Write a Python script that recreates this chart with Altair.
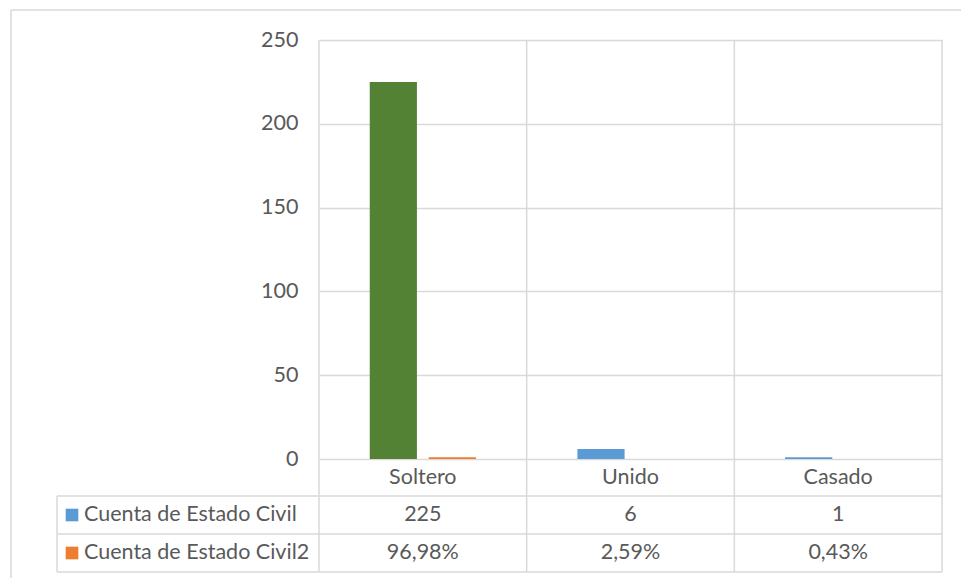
import altair as alt
import pandas as pd

# Categories and the two series of the chart
categorias = ["Soltero", "Unido", "Casado"]
cuenta = [225, 6, 1]
porcentaje = [0.9698, 0.0259, 0.0043]
series = ["Cuenta de Estado Civil", "Cuenta de Estado Civil2"]
ticks_y = [0, 50, 100, 150, 200, 250]

FONT = "Lato"
TXT = "#595959"
GRID = "#d9d9d9"
FS = 21.5

W, H = 623, 419          # plot area
LEFT, TOP = 319, 40      # plot origin inside the page

largo = pd.DataFrame({
    "cat": categorias * 2,
    "serie": [series[0]] * 3 + [series[1]] * 3,
    "valor": cuenta + porcentaje,
})
tabla = pd.DataFrame({"cat": categorias, "cuenta": cuenta, "pct": porcentaje})

xcat = alt.X("cat:N", sort=categorias,
             scale=alt.Scale(paddingInner=0, paddingOuter=0), axis=None)

barras = alt.Chart(largo).mark_bar().encode(
    x=xcat,
    xOffset=alt.XOffset("serie:N", sort=series,
                        scale=alt.Scale(paddingInner=0.2, paddingOuter=0.86)),
    y=alt.Y("valor:Q", scale=alt.Scale(domain=[0, 250], nice=False),
            axis=alt.Axis(values=ticks_y, grid=True, gridColor=GRID, gridWidth=1.5,
                          domain=False, ticks=False, labelPadding=21,
                          labelFont=FONT, labelFontSize=FS, labelColor=TXT,
                          title=None)),
    color=alt.condition(
        "datum.cat == 'Soltero' && datum.serie == 'Cuenta de Estado Civil'",
        alt.value("#548235"),
        alt.Color("serie:N", scale=alt.Scale(domain=series,
                                             range=["#5b9bd5", "#ed7d31"]),
                  legend=None)),
)

# Vertical separators: category boundaries through plot and data table
sep = alt.Chart(tabla).mark_rule(color=GRID, strokeWidth=1.5).encode(
    x=alt.X("cat:N", sort=categorias, bandPosition=0,
            scale=alt.Scale(paddingInner=0, paddingOuter=0), axis=None),
    y=alt.value(0), y2=alt.value(532),
)

unit = alt.Data(values=[{"k": 0}])


def linea(x, x2, y, y2):
    return alt.Chart(unit).mark_rule(color=GRID, strokeWidth=1.5).encode(
        x=alt.value(x), x2=alt.value(x2), y=alt.value(y), y2=alt.value(y2))


lineas = [
    linea(W, W, 0, 532),                 # right edge
    linea(-262, W, 456, 456),            # table rows
    linea(-262, W, 494, 494),
    linea(-262, W, 532, 532),
    linea(-262, -262, 456, 532),         # table left edge
    linea(11 - LEFT, 961 - LEFT, 10 - TOP, 10 - TOP),   # chart frame
    linea(11 - LEFT, 11 - LEFT, 10 - TOP, 578 - TOP),
]

texto = dict(font=FONT, fontSize=FS, color=TXT, baseline="middle")

etiquetas_cat = alt.Chart(tabla).mark_text(**texto).encode(
    x=xcat, y=alt.value(438), text="cat:N")

fila_cuenta = alt.Chart(tabla).mark_text(**texto).encode(
    x=xcat, y=alt.value(475), text=alt.Text("cuenta:Q", format="d"))

fila_pct = alt.Chart(tabla).transform_calculate(
    lab="replace(format(datum.pct, '.2%'), '.', ',')"
).mark_text(**texto).encode(x=xcat, y=alt.value(513), text="lab:N")

leyenda = alt.Chart(pd.DataFrame({"serie": series, "fila": [475, 513]}))
cuadros = leyenda.mark_square(size=160, opacity=1, strokeWidth=0).encode(
    x=alt.value(-247), y=alt.Y("fila:Q", scale=None),
    color=alt.Color("serie:N", scale=alt.Scale(domain=series,
                                               range=["#5b9bd5", "#ed7d31"]),
                    legend=None))
nombres = leyenda.mark_text(align="left", **texto).encode(
    x=alt.value(-235), y=alt.Y("fila:Q", scale=None), text="serie:N")

chart = alt.layer(
    sep, *lineas, barras, etiquetas_cat, fila_cuenta, fila_pct, cuadros, nombres
).resolve_scale(y="independent").properties(
    width=W, height=H,
    autosize=alt.AutoSizeParams(type="none"),
    padding={"left": LEFT, "top": TOP, "right": 961 - LEFT - W, "bottom": 578 - TOP - H},
    background="white",
).configure_view(stroke=None)

chart.save("out.html", embed_options={"renderer": "svg", "actions": False})
